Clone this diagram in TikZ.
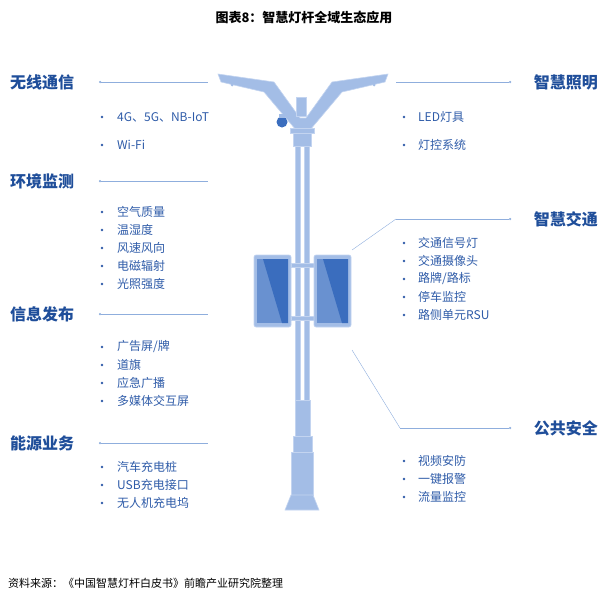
\documentclass[tikz,border=0pt]{standalone}
\usepackage{fontspec}
\setmainfont{Noto Sans CJK SC}
\usetikzlibrary{positioning,calc}
\definecolor{headblue}{HTML}{1F4E9A}
\definecolor{itemblue}{HTML}{2E5BA8}
\definecolor{polefill}{HTML}{A3BDE6}
\definecolor{polelight}{HTML}{C3D4F0}
\definecolor{paneldark}{HTML}{3A6DBE}
\definecolor{linkblue}{HTML}{8FAEDD}
\begin{document}
\begin{tikzpicture}[x=1pt,y=-1pt,
	head/.style={font=\fontsize{16}{18}\selectfont\bfseries,text=headblue,inner sep=0pt},
	item/.style={font=\fontsize{12}{14}\selectfont,text=itemblue,inner sep=0pt,anchor=west},
	hline/.style={linkblue,thin},
	pole/.style={fill=polefill,draw=polelight,line width=0.6pt},
	dot/.style={circle,fill=linkblue,inner sep=0pt,minimum size=2.5pt}]

    \useasboundingbox (0,0) rectangle (609,605);
    \node (title) at (304,18) {\fontsize{13}{15}\selectfont\bfseries 图表8：智慧灯杆全域生态应用};

    % pole
    \draw[pole] (218,74) -- (274,82) -- (300,118) -- (306,118) -- (332,82) -- (388,74) -- (385,82) -- (342,92) -- (310,130) -- (296,130) -- (264,92) -- (221,82) -- cycle;
    \foreach \x in {232,243,254,352,363,374} \fill[polefill] (\x,85) circle (1.5);
    \draw[pole] (296,97) rectangle (306,116);
    \fill[paneldark] (282,122) circle (5.5);
    \fill[polefill] (279,114) rectangle (285,118);
    \draw[pole] (290,128) rectangle (314,133);
    \draw[pole] (293,133) rectangle (311,146);
    \draw[pole] (295,146) rectangle (300,405);
    \draw[pole] (304,146) rectangle (309,405);
    \draw[pole] (295,400) rectangle (310,438);
    \draw[pole] (293,436) rectangle (312,452);
    \draw[pole] (291,452) rectangle (313,495);
    \draw[pole] (291,495) -- (313,495) -- (319,510) -- (285,510) -- cycle;
    \foreach \y in {265,318} \draw[pole] (291,\y-2) rectangle (314,\y+2);

    % panels
    \foreach \px/\nm in {254/lp,314/rp} {
      \draw[pole,rounded corners=2] (\px,255) rectangle (\px+37,327);
      \fill[polefill!45!paneldark] (\px+3,259) rectangle (\px+34,323);
      \fill[paneldark] (\px+9,259) -- (\px+34,259) -- (\px+34,323) -- (\px+28,323) -- cycle;
    }
    \coordinate (trafficEnd) at (352,250);
    \coordinate (safetyEnd) at (352,350);

    % left headings
    \foreach \nm/\txt/\y in {comm/无线通信/82, env/环境监测/181, info/信息发布/314, energy/能源业务/443} {
      \node[head,anchor=west] (\nm) at (10,\y) {\txt};
      \node[dot] (\nm dot) at (100,\y) {};
      \coordinate (\nm end) at (208,\y);
      \draw[hline] (\nm dot) -- (\nm end);
    }
    % right headings
    \foreach \nm/\txt/\y/\x in {light/智慧照明/82/396, traffic/智慧交通/219/396, safety/公共安全/428/400} {
      \node[head,anchor=east] (\nm) at (598,\y) {\txt};
      \node[dot] (\nm dot) at (510,\y) {};
      \coordinate (\nm start) at (\x,\y);
      \draw[hline] (\nm start) -- (\nm dot);
    }
    \draw[hline] (trafficstart) -- (trafficEnd);
    \draw[hline] (safetystart) -- (safetyEnd);

    % left items
    \foreach \txt/\y in {4G、5G、NB-IoT/117, Wi-Fi/145, 空气质量/212, 温湿度/230, 风速风向/248, 电磁辐射/266, 光照强度/284,
        {广告屏/牌}/347, 道旗/365, 应急广播/383, 多媒体交互屏/401, 汽车充电桩/467, USB充电接口/485, 无人机充电坞/503} {
      \fill[itemblue] (102,\y) circle (1.3);
      \node[item] at (117,\y) {\txt};
    }
    % right items
    \foreach \txt/\y in {LED灯具/117, 灯控系统/145, 交通信号灯/243, 交通摄像头/261, {路牌/路标}/279, 停车监控/297, 路侧单元RSU/315,
        视频安防/461, 一键报警/479, 流量监控/497} {
      \fill[itemblue] (404,\y) circle (1.3);
      \node[item] at (418,\y) {\txt};
    }

    \node[anchor=west,inner sep=0pt] (source) at (8,583) {\fontsize{11}{13}\selectfont 资料来源：《中国智慧灯杆白皮书》前瞻产业研究院整理};
\end{tikzpicture}
\end{document}
